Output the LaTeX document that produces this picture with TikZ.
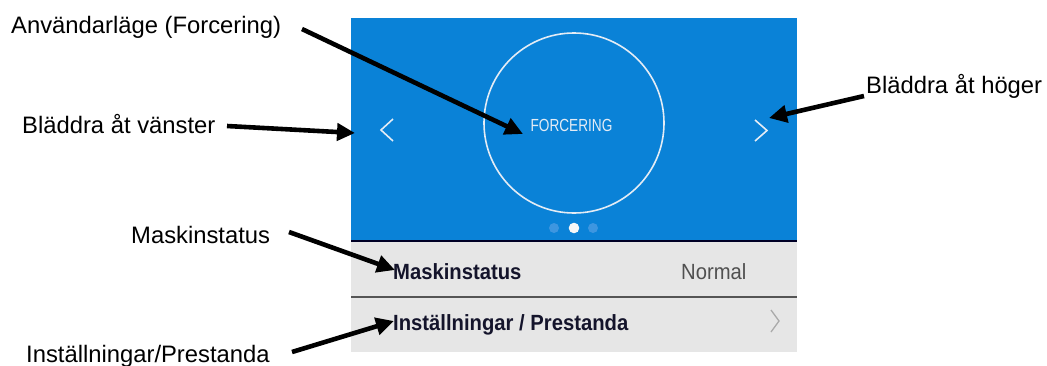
\documentclass[tikz,border=0pt]{standalone}
\usepackage{fontspec}
\setmainfont{Liberation Sans}
\newfontfamily\uifont[FakeStretch=0.92]{Liberation Sans}
\newfontfamily\uicond[FakeStretch=0.78]{Liberation Sans}
\usetikzlibrary{arrows.meta}
\definecolor{panelblue}{HTML}{0A82D7}
\definecolor{dotblue}{HTML}{3D96E0}
\definecolor{rowgray}{HTML}{E6E6E6}
\definecolor{sepgray}{HTML}{555555}
\definecolor{navy}{HTML}{14142B}
\definecolor{normalgray}{HTML}{505050}
\definecolor{chevgray}{HTML}{AAAAAA}
\definecolor{lightline}{HTML}{E4ECF5}
\tikzset{
  lab/.style={inner sep=0pt, anchor=base west, font=\fontsize{23.8}{28}\selectfont},
  uibold/.style={inner sep=0pt, anchor=base west, text=navy, font=\uifont\bfseries\fontsize{22}{26}\selectfont},
  uireg/.style={inner sep=0pt, anchor=base west, text=normalgray, font=\uifont\fontsize{22}{26}\selectfont},
  arr/.style={line width=4.6pt, -{Triangle[length=18pt,width=17pt]}},
  chev/.style={lightline, line width=1.6pt},
}
\begin{document}
\begin{tikzpicture}[x=1pt,y=-1pt]
\useasboundingbox (0,0) rectangle (1047,365);
% panel
\fill[panelblue] (351,18) rectangle (797,241);
\fill[rowgray] (351,241) rectangle (797,352);
\draw[black!85!blue, line width=2pt] (351,240.5) -- (797,240.5);
\draw[sepgray, line width=2pt] (351,296.5) -- (797,296.5);
% circle and mode
\node[draw=lightline, line width=1.6pt, circle, minimum size=180pt, inner sep=0pt] (circ) at (574,123) {};
\node[inner sep=0pt, text=lightline, font=\uicond\fontsize{17.5}{21}\selectfont] (mode) at (571.5,125.5) {FORCERING};
% chevrons
\draw[chev] (393,119) -- (381,130) -- (393,141);
\draw[chev] (755,120) -- (767,130.5) -- (755,141);
% dots
\fill[dotblue] (554,228) circle (5pt);
\fill[white!94!gray] (574,228) circle (5.3pt);
\fill[dotblue] (593,228) circle (5pt);
% rows
\node[uibold] (ms) at (393,279.5) {Maskinstatus};
\node[uireg] (norm) at (681,279.5) {Normal};
\node[uibold] (ip) at (393,330.5) {Inställningar / Prestanda};
\draw[chevgray, line width=1.3pt] (771,310) -- (779,321) -- (771,332);
% labels
\node[lab] (l1) at (11,33) {Användarläge (Forcering)};
\node[lab] (l2) at (22,133) {Bläddra åt vänster};
\node[lab] (l3) at (866,93) {Bläddra åt höger};
\node[lab] (l4) at (131,243) {Maskinstatus};
\node[lab] (l5) at (26,362) {Inställningar/Prestanda};
% arrow end points
\coordinate (s1) at (302,29);  \coordinate (t1) at (523,134);
\coordinate (s2) at (227,126); \coordinate (t2) at (355,133);
\coordinate (s3) at (864,96);  \coordinate (t3) at (769,118);
\coordinate (s4) at (289,232); \coordinate (t4) at (395,270);
\coordinate (s5) at (292,352); \coordinate (t5) at (394,321);
\draw[arr] (s1) -- (t1);
\draw[arr] (s2) -- (t2);
\draw[arr] (s3) -- (t3);
\draw[arr] (s4) -- (t4);
\draw[arr] (s5) -- (t5);
\end{tikzpicture}
\end{document}
